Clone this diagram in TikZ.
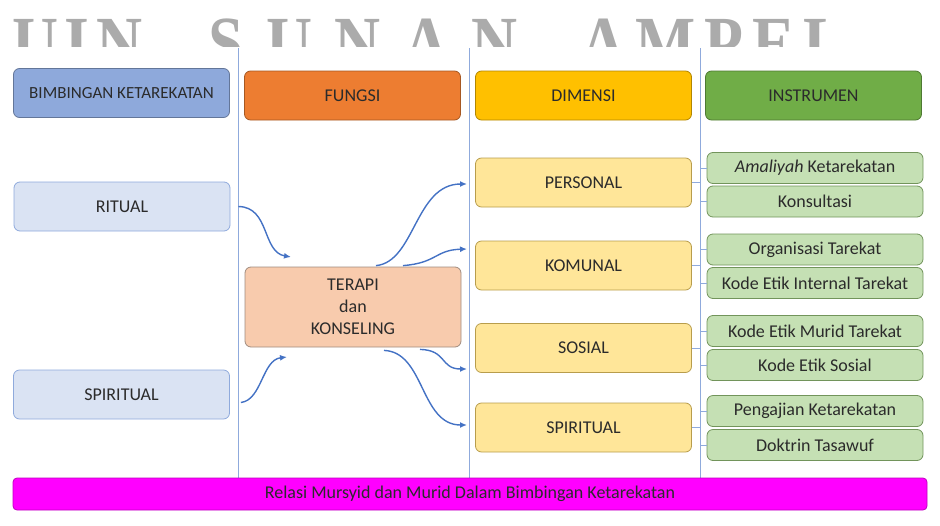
\documentclass[tikz,border=0pt]{standalone}
\usepackage{fontspec}
\setmainfont{Carlito}
\newfontfamily\wmfont{Liberation Serif}[FakeStretch=0.85]
\usetikzlibrary{arrows.meta}
\definecolor{headblue}{HTML}{8EA9DB}
\definecolor{headorange}{HTML}{ED7D31}
\definecolor{headgold}{HTML}{FFC000}
\definecolor{headgreen}{HTML}{70AD47}
\definecolor{lightblue}{HTML}{DAE3F3}
\definecolor{peach}{HTML}{F8CBAD}
\definecolor{lightgold}{HTML}{FFE699}
\definecolor{lightgreen}{HTML}{C5E0B4}
\definecolor{barmagenta}{HTML}{FF00FF}
\definecolor{arrowblue}{HTML}{4472C4}
\definecolor{sepline}{HTML}{8FAADC}
\definecolor{txt}{HTML}{2B2B2B}
\tikzset{
  box/.style={rounded corners=6pt, minimum width=216pt, minimum height=49pt,
    inner sep=0pt, align=center, text=txt, line width=0.8pt,
    font=\fontsize{18}{22}\selectfont},
  instbox/.style={box, minimum height=31pt, fill=lightgreen, draw=headgreen!70!black!80},
  dimbox/.style={box, fill=lightgold, draw=headgold!60!black!70},
  flow/.style={arrowblue, line width=1.4pt, -{Latex[length=7pt,width=6pt]}},
  bracket/.style={sepline, line width=0.8pt},
  wmark/.style={anchor=base west, inner sep=0pt, text=black!33,
    font=\fontsize{75}{75}\selectfont\wmfont\bfseries}
}
\begin{document}
\begin{tikzpicture}[x=1pt,y=-1pt]
\useasboundingbox (0,0) rectangle (940,525);

\begin{scope}
\clip (0,0) rectangle (940,46);
\node[wmark] (wmuin) at (12,68) {\addfontfeature{LetterSpace=9}UIN};
\node[wmark] (wmsunan) at (208,68) {\addfontfeature{LetterSpace=30}SUNAN};
\node[wmark] (wmampel) at (580,68) {\addfontfeature{LetterSpace=12}AMPEL};
\end{scope}

\draw[sepline, line width=0.8pt] (238,48) -- (238,478);
\draw[sepline, line width=0.8pt] (469,48) -- (469,478);
\draw[sepline, line width=0.8pt] (700,48) -- (700,478);

\node[box, fill=headblue, draw=headblue!70!black, font=\fontsize{17}{20}\selectfont] (hbim) at (121.5,93) {BIMBINGAN KETAREKATAN};
\node[box, fill=headorange, draw=headorange!70!black] (hfun) at (352.5,95.5) {FUNGSI};
\node[box, fill=headgold, draw=headgold!70!black] (hdim) at (583.5,95.5) {DIMENSI};
\node[box, fill=headgreen, draw=headgreen!70!black] (hins) at (813.5,95.5) {INSTRUMEN};

\node[box, fill=lightblue, draw=sepline] (ritual) at (122,206.5) {RITUAL};
\node[box, fill=lightblue, draw=sepline] (spiritual) at (121.5,394.5) {SPIRITUAL};

\node[box, minimum height=80pt, fill=peach, draw=peach!55!black!80] (terapi) at (353,307) {TERAPI\\dan\\KONSELING};

\node[dimbox] (personal) at (583.5,182.5) {PERSONAL};
\node[dimbox] (komunal) at (583.5,265.5) {KOMUNAL};
\node[dimbox] (sosial) at (583.5,348) {SOSIAL};
\node[dimbox] (spiritualdim) at (583.5,427.5) {SPIRITUAL};

\node[instbox] (amaliyah) at (815,168) {\textit{Amaliyah} Ketarekatan};
\node[instbox] (konsultasi) at (815,201.5) {Konsultasi};
\node[instbox] (organisasi) at (815,249.5) {Organisasi Tarekat};
\node[instbox] (etikinternal) at (815,283) {Kode Etik Internal Tarekat};
\node[instbox] (etikmurid) at (815,331) {Kode Etik Murid Tarekat};
\node[instbox] (etiksosial) at (815,365) {Kode Etik Sosial};
\node[instbox] (pengajian) at (815,411) {Pengajian Ketarekatan};
\node[instbox] (doktrin) at (815,445) {Doktrin Tasawuf};

\node[box, minimum width=914pt, minimum height=32pt, fill=barmagenta, draw=barmagenta!75!black,
  rounded corners=4pt] (relasi) at (470,494) {Relasi Mursyid dan Murid Dalam Bimbingan Ketarekatan};

\draw[bracket] (personal.east) -- ++(8,0) |- (amaliyah.west);
\draw[bracket] (personal.east) -- ++(8,0) |- (konsultasi.west);
\draw[bracket] (komunal.east) -- ++(8,0) |- (organisasi.west);
\draw[bracket] (komunal.east) -- ++(8,0) |- (etikinternal.west);
\draw[bracket] (sosial.east) -- ++(8,0) |- (etikmurid.west);
\draw[bracket] (sosial.east) -- ++(8,0) |- (etiksosial.west);
\draw[bracket] (spiritualdim.east) -- ++(8,0) |- (pengajian.west);
\draw[bracket] (spiritualdim.east) -- ++(8,0) |- (doktrin.west);

\coordinate (inritual) at (291,257);
\coordinate (inspiritual) at (287,357);
\coordinate (topersonal) at (467,184);
\coordinate (tokomunal) at (467,249);
\coordinate (tososial) at (467,369);
\coordinate (tospiritual) at (467,425);

\draw[flow] ([xshift=8pt]ritual.east) .. controls (270,207) and (262,252) .. (inritual);
\draw[flow] ([shift={(11,8)}]spiritual.east) .. controls (262,400) and (262,360) .. (inspiritual);
\draw[flow] ([shift={(23,-1)}]terapi.north) .. controls (415,262) and (415,184) .. (topersonal);
\draw[flow] ([shift={(50,-1)}]terapi.north) .. controls (437,263) and (435,250) .. (tokomunal);
\draw[flow] ([shift={(67,2)}]terapi.south) .. controls (447,350) and (440,369) .. (tososial);
\draw[flow] ([shift={(31,3)}]terapi.south) .. controls (425,352) and (420,425) .. (tospiritual);
\end{tikzpicture}
\end{document}
